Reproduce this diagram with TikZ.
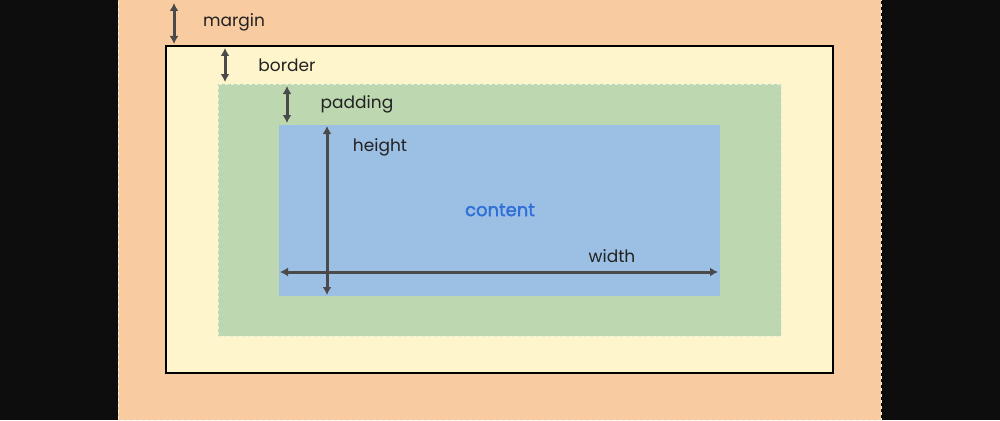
\documentclass[tikz,border=0pt]{standalone}
\usepackage{fontspec}
\setmainfont{Poppins}
\newfontfamily\contentfont[FakeBold=2]{Poppins}
\usetikzlibrary{arrows.meta,positioning}
\definecolor{bgblack}{HTML}{0D0D0D}
\definecolor{marginorange}{HTML}{F8CBA0}
\definecolor{borderyellow}{HTML}{FFF5CC}
\definecolor{paddinggreen}{HTML}{BDD7B0}
\definecolor{contentblue}{HTML}{9CBFE4}
\definecolor{dimgray}{HTML}{4A4A4A}
\definecolor{labelblack}{HTML}{222222}
\definecolor{contenttext}{HTML}{2F6FD8}
\tikzset{
  layer/.style={inner sep=0pt, outer sep=0pt, anchor=north west},
  dimline/.style={{Latex[length=8pt,width=9pt]}-{Latex[length=8pt,width=9pt]}, line width=3pt, draw=dimgray},
  lbl/.style={font=\fontsize{17}{20}\selectfont, text=labelblack, inner sep=0pt},
}
\begin{document}
\begin{tikzpicture}[x=1pt, y=-1pt]
    \useasboundingbox[fill=bgblack] (0,0) rectangle (1000,420);

    % nested boxes
    \node[layer, fill=marginorange, draw=white!80!marginorange, dashed, thin,
      minimum width=763pt, minimum height=421pt] (marginbox) at (118,-1) {};
    \node[layer, fill=borderyellow, draw=black, line width=2pt,
      minimum width=667pt, minimum height=327pt] (borderbox) at (166,46) {};
    \node[layer, fill=paddinggreen, draw=white!60!paddinggreen, dashed, thin,
      minimum width=563pt, minimum height=252pt] (paddingbox) at (218,84) {};
    \node[layer, fill=contentblue,
      minimum width=441pt, minimum height=171pt] (contentbox) at (279,125) {};

    % arrow ends
    \coordinate (m1) at (174,3);
    \coordinate (m2) at (174,44);
    \coordinate (b1) at (225,48);
    \coordinate (b2) at (225,82);
    \coordinate (p1) at (287,86);
    \coordinate (p2) at (287,123);
    \coordinate (h1) at (327,126);
    \coordinate (h2) at (327,295);
    \coordinate (w1) at (280,272);
    \coordinate (w2) at (718,272);

    \draw[dimline] (m1) -- (m2);
    \draw[dimline] (b1) -- (b2);
    \draw[dimline] (p1) -- (p2);
    \draw[dimline] (w1) -- (w2);
    \draw[dimline] (h1) -- (h2);

    % labels
    \node[lbl] (marginlbl) at (234,22) {margin};
    \node[lbl] (borderlbl) at (287,65) {border};
    \node[lbl] (paddinglbl) at (357,104) {padding};
    \node[lbl] (heightlbl) at (380,147) {height};
    \node[lbl] (widthlbl) at (612,256) {width};
    \node[lbl, text=contenttext, font=\fontsize{18}{21}\contentfont] (contentlbl) at (500,210) {content};
\end{tikzpicture}
\end{document}
